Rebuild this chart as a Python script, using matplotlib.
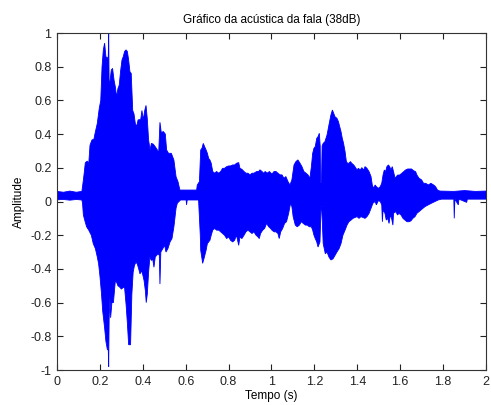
import matplotlib
matplotlib.use("Agg")
import matplotlib.pyplot as plt
from matplotlib.ticker import FormatStrFormatter

plt.rcParams['font.family'] = ['Liberation Sans', 'DejaVu Sans']
plt.rcParams['axes.unicode_minus'] = False

# Positive envelope of the recorded speech signal: (time s, amplitude)
upper_envelope = [
    (0.000, 0.060), (0.030, 0.055), (0.060, 0.062), (0.090, 0.055), (0.116, 0.060),
    (0.121, 0.108), (0.126, 0.160), (0.132, 0.230), (0.141, 0.240), (0.148, 0.225),
    (0.154, 0.335), (0.163, 0.365), (0.172, 0.370), (0.179, 0.414), (0.188, 0.464),
    (0.197, 0.553), (0.204, 0.600), (0.210, 0.800), (0.216, 0.900), (0.222, 0.940),
    (0.228, 0.860), (0.235, 0.850), (0.239, 0.860), (0.241, 1.000), (0.243, 0.700),
    (0.247, 0.710), (0.253, 0.780), (0.259, 0.790), (0.266, 0.720), (0.272, 0.680),
    (0.278, 0.620), (0.284, 0.670), (0.290, 0.690), (0.297, 0.780), (0.303, 0.840),
    (0.309, 0.860), (0.315, 0.890), (0.322, 0.900), (0.328, 0.890), (0.334, 0.840),
    (0.340, 0.770), (0.346, 0.760), (0.353, 0.540), (0.359, 0.520), (0.365, 0.464),
    (0.371, 0.444), (0.378, 0.484), (0.384, 0.486), (0.390, 0.484), (0.396, 0.540),
    (0.402, 0.484), (0.409, 0.540), (0.415, 0.570), (0.421, 0.490), (0.427, 0.365),
    (0.434, 0.306), (0.440, 0.345), (0.449, 0.340), (0.458, 0.325), (0.468, 0.306),
    (0.474, 0.286), (0.480, 0.470), (0.486, 0.410), (0.496, 0.415), (0.505, 0.400),
    (0.511, 0.306), (0.520, 0.286), (0.533, 0.286), (0.545, 0.246), (0.555, 0.147),
    (0.564, 0.118), (0.573, 0.068), (0.604, 0.068), (0.651, 0.068), (0.654, 0.098),
    (0.664, 0.118), (0.670, 0.306), (0.676, 0.316), (0.682, 0.345), (0.688, 0.326),
    (0.695, 0.306), (0.701, 0.286), (0.707, 0.256), (0.713, 0.246), (0.719, 0.227),
    (0.726, 0.178), (0.735, 0.168), (0.744, 0.178), (0.754, 0.168), (0.763, 0.178),
    (0.772, 0.197), (0.781, 0.197), (0.791, 0.207), (0.800, 0.211), (0.809, 0.211),
    (0.819, 0.217), (0.828, 0.217), (0.837, 0.227), (0.847, 0.231), (0.853, 0.197),
    (0.862, 0.191), (0.872, 0.178), (0.881, 0.168), (0.890, 0.168), (0.900, 0.158),
    (0.909, 0.168), (0.918, 0.168), (0.931, 0.178), (0.940, 0.178), (0.946, 0.188),
    (0.956, 0.178), (0.962, 0.168), (0.971, 0.178), (0.980, 0.168), (0.990, 0.178),
    (1.002, 0.163), (1.012, 0.178), (1.021, 0.178), (1.030, 0.168), (1.040, 0.158),
    (1.049, 0.158), (1.058, 0.138), (1.067, 0.148), (1.077, 0.118), (1.086, 0.098),
    (1.095, 0.128), (1.105, 0.217), (1.114, 0.237), (1.123, 0.247), (1.133, 0.227),
    (1.142, 0.207), (1.151, 0.178), (1.161, 0.168), (1.170, 0.158), (1.179, 0.138),
    (1.186, 0.207), (1.192, 0.286), (1.198, 0.316), (1.204, 0.326), (1.211, 0.375),
    (1.217, 0.385), (1.223, 0.405), (1.227, 0.330), (1.229, 0.110), (1.233, 0.110),
    (1.236, 0.330), (1.241, 0.345), (1.249, 0.355), (1.259, 0.395), (1.268, 0.455),
    (1.277, 0.514), (1.284, 0.543), (1.290, 0.523), (1.296, 0.503), (1.305, 0.494),
    (1.312, 0.474), (1.318, 0.444), (1.324, 0.415), (1.330, 0.375), (1.336, 0.345),
    (1.343, 0.296), (1.349, 0.237), (1.355, 0.227), (1.361, 0.227), (1.368, 0.237),
    (1.374, 0.227), (1.383, 0.217), (1.389, 0.207), (1.399, 0.187), (1.405, 0.197),
    (1.414, 0.187), (1.421, 0.201), (1.430, 0.187), (1.436, 0.207), (1.445, 0.197),
    (1.455, 0.177), (1.464, 0.148), (1.470, 0.098), (1.476, 0.078), (1.483, 0.098),
    (1.489, 0.088), (1.498, 0.078), (1.507, 0.088), (1.514, 0.108), (1.520, 0.157),
    (1.526, 0.187), (1.532, 0.177), (1.538, 0.207), (1.545, 0.217), (1.551, 0.207),
    (1.557, 0.187), (1.563, 0.207), (1.569, 0.177), (1.576, 0.138), (1.582, 0.148),
    (1.588, 0.157), (1.597, 0.157), (1.607, 0.167), (1.616, 0.177), (1.625, 0.187),
    (1.635, 0.193), (1.644, 0.193), (1.653, 0.193), (1.662, 0.183), (1.672, 0.177),
    (1.678, 0.157), (1.688, 0.138), (1.700, 0.128), (1.709, 0.108), (1.719, 0.108),
    (1.731, 0.098), (1.743, 0.108), (1.756, 0.098), (1.765, 0.088), (1.774, 0.068),
    (1.785, 0.062), (1.850, 0.060), (1.900, 0.065), (1.950, 0.060), (2.000, 0.062),
]

# Negative envelope of the recorded speech signal: (time s, amplitude)
lower_envelope = [
    (0.000, 0.010), (0.030, 0.012), (0.060, 0.008), (0.090, 0.012), (0.116, 0.009),
    (0.119, -0.011), (0.123, -0.080), (0.129, -0.110), (0.138, -0.150), (0.148, -0.170),
    (0.160, -0.200), (0.169, -0.250), (0.179, -0.280), (0.188, -0.330), (0.194, -0.370),
    (0.200, -0.440), (0.207, -0.540), (0.213, -0.650), (0.222, -0.750), (0.228, -0.830),
    (0.235, -0.880), (0.239, -0.880), (0.241, -0.980), (0.243, -0.700), (0.247, -0.570),
    (0.250, -0.690), (0.256, -0.600), (0.263, -0.600), (0.272, -0.470), (0.278, -0.480),
    (0.284, -0.500), (0.294, -0.510), (0.300, -0.520), (0.309, -0.510), (0.315, -0.510),
    (0.322, -0.610), (0.328, -0.720), (0.334, -0.850), (0.343, -0.850), (0.349, -0.550),
    (0.355, -0.420), (0.361, -0.380), (0.368, -0.360), (0.374, -0.370), (0.381, -0.400),
    (0.387, -0.430), (0.393, -0.410), (0.399, -0.430), (0.406, -0.470), (0.412, -0.530),
    (0.416, -0.600), (0.421, -0.550), (0.427, -0.420), (0.433, -0.330), (0.440, -0.350),
    (0.446, -0.340), (0.452, -0.390), (0.458, -0.330), (0.464, -0.320), (0.471, -0.310),
    (0.477, -0.320), (0.480, -0.490), (0.484, -0.300), (0.493, -0.280), (0.502, -0.260),
    (0.508, -0.300), (0.517, -0.280), (0.527, -0.240), (0.536, -0.220), (0.545, -0.150),
    (0.555, -0.040), (0.561, -0.010), (0.576, 0.009), (0.602, 0.009), (0.604, -0.020),
    (0.607, 0.009), (0.660, 0.009), (0.668, -0.200), (0.670, -0.290), (0.676, -0.340),
    (0.679, -0.367), (0.685, -0.340), (0.695, -0.290), (0.701, -0.250), (0.713, -0.230),
    (0.719, -0.200), (0.726, -0.170), (0.735, -0.160), (0.744, -0.170), (0.754, -0.170),
    (0.763, -0.180), (0.772, -0.190), (0.781, -0.200), (0.791, -0.220), (0.800, -0.210),
    (0.809, -0.230), (0.819, -0.240), (0.828, -0.230), (0.837, -0.200), (0.847, -0.260),
    (0.853, -0.210), (0.862, -0.220), (0.872, -0.200), (0.881, -0.180), (0.890, -0.170),
    (0.900, -0.180), (0.909, -0.190), (0.918, -0.180), (0.928, -0.200), (0.937, -0.210),
    (0.943, -0.220), (0.949, -0.190), (0.959, -0.170), (0.968, -0.160), (0.977, -0.130),
    (0.987, -0.150), (0.996, -0.160), (1.002, -0.170), (1.012, -0.180), (1.021, -0.180),
    (1.030, -0.190), (1.036, -0.220), (1.043, -0.180), (1.052, -0.160), (1.061, -0.130),
    (1.070, -0.120), (1.080, -0.070), (1.089, -0.010), (1.095, -0.030), (1.101, -0.090),
    (1.111, -0.140), (1.120, -0.150), (1.130, -0.140), (1.139, -0.120), (1.148, -0.130),
    (1.158, -0.140), (1.167, -0.140), (1.176, -0.150), (1.186, -0.150), (1.192, -0.170),
    (1.198, -0.200), (1.204, -0.220), (1.211, -0.240), (1.217, -0.270), (1.226, -0.240),
    (1.231, -0.030), (1.234, -0.030), (1.241, -0.250), (1.251, -0.310), (1.259, -0.300),
    (1.268, -0.330), (1.277, -0.347), (1.287, -0.340), (1.296, -0.320), (1.305, -0.300),
    (1.315, -0.280), (1.324, -0.250), (1.333, -0.200), (1.343, -0.170), (1.352, -0.140),
    (1.361, -0.120), (1.371, -0.110), (1.380, -0.100), (1.389, -0.095), (1.399, -0.090),
    (1.408, -0.100), (1.417, -0.090), (1.427, -0.095), (1.436, -0.100), (1.445, -0.090),
    (1.455, -0.070), (1.464, -0.040), (1.473, -0.010), (1.483, 0.000), (1.489, -0.020),
    (1.498, 0.005), (1.507, 0.000), (1.514, -0.020), (1.517, -0.120), (1.520, -0.050),
    (1.529, -0.070), (1.535, -0.110), (1.542, -0.100), (1.548, -0.130), (1.554, -0.080),
    (1.560, -0.100), (1.566, -0.140), (1.569, -0.070), (1.579, -0.060), (1.588, -0.080),
    (1.594, -0.070), (1.604, -0.080), (1.613, -0.100), (1.622, -0.110), (1.632, -0.120),
    (1.641, -0.120), (1.650, -0.115), (1.659, -0.100), (1.669, -0.090), (1.678, -0.070),
    (1.688, -0.060), (1.697, -0.050), (1.716, -0.030), (1.746, -0.010), (1.777, 0.009),
    (1.793, 0.014), (1.850, 0.014), (1.852, -0.100), (1.855, 0.014), (1.871, -0.020),
    (1.874, 0.014), (1.910, -0.005), (1.913, 0.014), (2.000, 0.014),
]

x_ticks = [0, 0.2, 0.4, 0.6, 0.8, 1, 1.2, 1.4, 1.6, 1.8, 2]
y_ticks = [-1, -0.8, -0.6, -0.4, -0.2, 0, 0.2, 0.4, 0.6, 0.8, 1]

fig = plt.figure(figsize=(4.91, 4.05), dpi=100)
ax = fig.add_axes([0.1161, 0.0864, 0.8737, 0.8321])

# Closed outline: along the positive envelope, then back along the negative one
outline = upper_envelope + lower_envelope[::-1]
wave_t = [p[0] for p in outline]
wave_a = [p[1] for p in outline]
ax.fill(wave_t, wave_a, facecolor='#0000ff', edgecolor='#0000ff', linewidth=0.6)

ax.set_xlim(0, 2)
ax.set_ylim(-1, 1)
ax.set_xticks(x_ticks)
ax.set_yticks(y_ticks)
ax.xaxis.set_major_formatter(FormatStrFormatter('%g'))
ax.yaxis.set_major_formatter(FormatStrFormatter('%g'))
ax.tick_params(direction='in', length=4, width=0.8, top=True, right=True,
               labelsize=9, colors='#222222', pad=4)
for s in ax.spines.values():
    s.set_linewidth(0.8)
    s.set_color('#333333')

ax.set_title('Gráfico da acústica da fala (38dB)', fontsize=8.5, pad=7)
ax.set_xlabel('Tempo (s)', fontsize=8.5, labelpad=2)
ax.set_ylabel('Amplitude', fontsize=8.5, labelpad=4)

fig.savefig('out.png', dpi=100)
